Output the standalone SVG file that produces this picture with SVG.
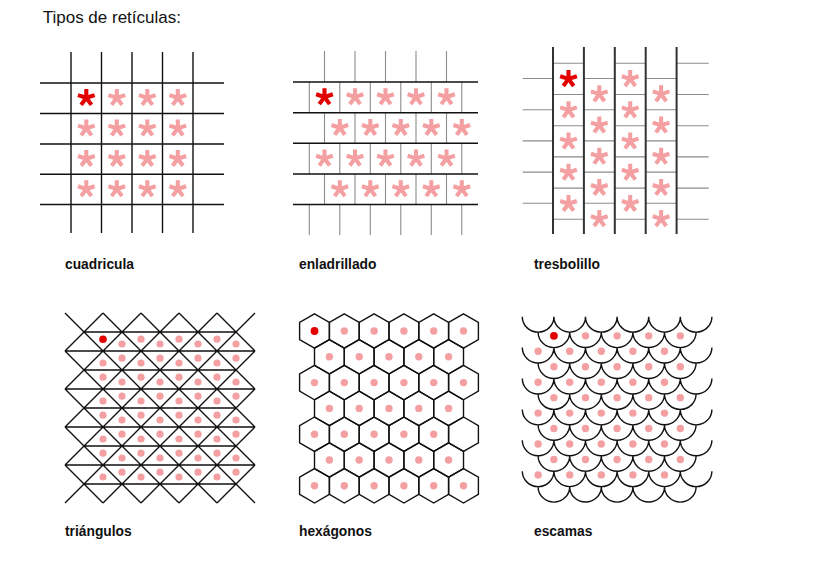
<svg xmlns="http://www.w3.org/2000/svg" width="820" height="569" viewBox="0 0 820 569">
<style>
.k{stroke:#111;stroke-width:1.4;fill:none}
.g{stroke:#8c8c8c;stroke-width:1.1;fill:none}
.th{stroke:#333;stroke-width:2;fill:none}
.ar{stroke:#e30000;fill:none}
.ap{stroke:#f4a0a2;fill:none}
.dr{fill:#e30000}
.dp{fill:#f4a0a2}
.title{font-family:"Liberation Sans",Arial,sans-serif;font-size:17px;fill:#111}
.lbl{font-family:"Liberation Sans",Arial,sans-serif;font-size:13.8px;font-weight:bold;fill:#111}
</style>
<defs>
<path id="ast" d="M0,0 L0,-8.8 M0,0 L8.37,-2.72 M0,0 L5.17,7.12 M0,0 L-5.17,7.12 M0,0 L-8.37,-2.72" stroke-width="4.1" stroke-linecap="butt"/>
<path id="hex" d="M0,-17.2 L14.9,-8.6 L14.9,8.6 L0,17.2 L-14.9,8.6 L-14.9,-8.6 Z"/>
</defs>
<rect width="820" height="569" fill="#fff"/>
<text class="title" x="42.7" y="23.3">Tipos de retículas:</text>

<g id="cuadricula">
<path class="k" d="M71,52V233M101.5,52V233M132,52V233M162.5,52V233M193,52V233M40,83H224M40,113.5H224M40,144H224M40,174.3H224M40,204.5H224"/>
<use href="#ast" class="ar" x="86.3" y="97.8"/>
<g class="ap">
<use href="#ast" x="116.8" y="97.8"/><use href="#ast" x="147.3" y="97.8"/><use href="#ast" x="177.8" y="97.8"/>
<use href="#ast" x="86.3" y="128.3"/><use href="#ast" x="116.8" y="128.3"/><use href="#ast" x="147.3" y="128.3"/><use href="#ast" x="177.8" y="128.3"/>
<use href="#ast" x="86.3" y="158.7"/><use href="#ast" x="116.8" y="158.7"/><use href="#ast" x="147.3" y="158.7"/><use href="#ast" x="177.8" y="158.7"/>
<use href="#ast" x="86.3" y="189"/><use href="#ast" x="116.8" y="189"/><use href="#ast" x="147.3" y="189"/><use href="#ast" x="177.8" y="189"/>
</g>
<text class="lbl" x="65" y="269.3">cuadricula</text>
</g>

<g id="enladrillado">
<path class="g" d="M324.5,51V82M355,51V82M385.5,51V82M416,51V82M446.5,51V82
M309.3,82V112.7M339.8,82V112.7M370.3,82V112.7M400.8,82V112.7M431.3,82V112.7M461.8,82V112.7
M324.5,112.7V143.3M355,112.7V143.3M385.5,112.7V143.3M416,112.7V143.3M446.5,112.7V143.3
M309.3,143.3V174M339.8,143.3V174M370.3,143.3V174M400.8,143.3V174M431.3,143.3V174M461.8,143.3V174
M324.5,174V204.5M355,174V204.5M385.5,174V204.5M416,174V204.5M446.5,174V204.5
M309.3,204.5V235M339.8,204.5V235M370.3,204.5V235M400.8,204.5V235M431.3,204.5V235M461.8,204.5V235"/>
<path class="k" d="M293,82H478M293,112.7H478M293,143.3H478M293,174H478M293,204.5H478"/>
<use href="#ast" class="ar" x="324.5" y="97"/>
<g class="ap">
<use href="#ast" x="355" y="97"/><use href="#ast" x="385.5" y="97"/><use href="#ast" x="416" y="97"/><use href="#ast" x="446.5" y="97"/>
<use href="#ast" x="339.8" y="127.7"/><use href="#ast" x="370.3" y="127.7"/><use href="#ast" x="400.8" y="127.7"/><use href="#ast" x="431.3" y="127.7"/><use href="#ast" x="461.8" y="127.7"/>
<use href="#ast" x="324.5" y="158.4"/><use href="#ast" x="355" y="158.4"/><use href="#ast" x="385.5" y="158.4"/><use href="#ast" x="416" y="158.4"/><use href="#ast" x="446.5" y="158.4"/>
<use href="#ast" x="339.8" y="189"/><use href="#ast" x="370.3" y="189"/><use href="#ast" x="400.8" y="189"/><use href="#ast" x="431.3" y="189"/><use href="#ast" x="461.8" y="189"/>
</g>
<text class="lbl" x="299" y="269.3">enladrillado</text>
</g>

<g id="tresbolillo">
<path class="g" d="M553,63.3H583.9M553,94.5H583.9M553,125.7H583.9M553,156.9H583.9M553,188.1H583.9M553,219.3H583.9
M614.8,63.3H645.7M614.8,94.5H645.7M614.8,125.7H645.7M614.8,156.9H645.7M614.8,188.1H645.7M614.8,219.3H645.7
M676.6,63.3H708.7M676.6,94.5H708.7M676.6,125.7H708.7M676.6,156.9H708.7M676.6,188.1H708.7M676.6,219.3H708.7
M583.9,78.5H614.8M583.9,109.7H614.8M583.9,140.9H614.8M583.9,172.1H614.8M583.9,203.3H614.8
M645.7,78.5H676.6M645.7,109.7H676.6M645.7,140.9H676.6M645.7,172.1H676.6M645.7,203.3H676.6
M522.7,78.5H553M522.7,109.7H553M522.7,140.9H553M522.7,172.1H553M522.7,203.3H553"/>
<path class="th" d="M553,47V234M583.9,47V234M614.8,47V234M645.7,47V234M676.6,47V234"/>
<use href="#ast" class="ar" x="568.5" y="78.9"/>
<g class="ap">
<use href="#ast" x="568.5" y="110.1"/><use href="#ast" x="568.5" y="141.3"/><use href="#ast" x="568.5" y="172.5"/><use href="#ast" x="568.5" y="203.7"/>
<use href="#ast" x="630.2" y="78.9"/><use href="#ast" x="630.2" y="110.1"/><use href="#ast" x="630.2" y="141.3"/><use href="#ast" x="630.2" y="172.5"/><use href="#ast" x="630.2" y="203.7"/>
<use href="#ast" x="599.3" y="94.1"/><use href="#ast" x="599.3" y="125.3"/><use href="#ast" x="599.3" y="156.5"/><use href="#ast" x="599.3" y="187.7"/><use href="#ast" x="599.3" y="218.9"/>
<use href="#ast" x="661.1" y="94.1"/><use href="#ast" x="661.1" y="125.3"/><use href="#ast" x="661.1" y="156.5"/><use href="#ast" x="661.1" y="187.7"/><use href="#ast" x="661.1" y="218.9"/>
</g>
<text class="lbl" x="534" y="269.3">tresbolillo</text>
</g>

<g id="triangulos">
<path class="k" d="M217,313L255,351M179,313L255,389M141,313L255,427M103,313L255,465M65,313L255,503M65,351L217,503M65,389L179,503M65,427L141,503M65,465L103,503
M65,351L103,313M65,389L141,313M65,427L179,313M65,465L217,313M65,503L255,313M103,503L255,351M141,503L255,389M179,503L255,427M217,503L255,465
M84,332H236M84,370H236M84,408H236M84,446H236M84,484H236M65,351H255M65,389H255M65,427H255M65,465H255"/>
<circle class="dr" cx="103" cy="339.2" r="3.8"/>
<g class="dp">
<circle cx="141" cy="339.2" r="3.6"/><circle cx="179" cy="339.2" r="3.6"/><circle cx="217" cy="339.2" r="3.6"/>
<circle cx="122" cy="344" r="3.6"/><circle cx="160" cy="344" r="3.6"/><circle cx="198" cy="344" r="3.6"/><circle cx="236" cy="344" r="3.6"/>
<circle cx="103" cy="363" r="3.6"/><circle cx="141" cy="363" r="3.6"/><circle cx="179" cy="363" r="3.6"/><circle cx="217" cy="363" r="3.6"/>
<circle cx="122" cy="358.2" r="3.6"/><circle cx="160" cy="358.2" r="3.6"/><circle cx="198" cy="358.2" r="3.6"/><circle cx="236" cy="358.2" r="3.6"/>
<circle cx="103" cy="377.2" r="3.6"/><circle cx="141" cy="377.2" r="3.6"/><circle cx="179" cy="377.2" r="3.6"/><circle cx="217" cy="377.2" r="3.6"/>
<circle cx="122" cy="382" r="3.6"/><circle cx="160" cy="382" r="3.6"/><circle cx="198" cy="382" r="3.6"/><circle cx="236" cy="382" r="3.6"/>
<circle cx="103" cy="401" r="3.6"/><circle cx="141" cy="401" r="3.6"/><circle cx="179" cy="401" r="3.6"/><circle cx="217" cy="401" r="3.6"/>
<circle cx="122" cy="396.2" r="3.6"/><circle cx="160" cy="396.2" r="3.6"/><circle cx="198" cy="396.2" r="3.6"/><circle cx="236" cy="396.2" r="3.6"/>
<circle cx="103" cy="415.2" r="3.6"/><circle cx="141" cy="415.2" r="3.6"/><circle cx="179" cy="415.2" r="3.6"/><circle cx="217" cy="415.2" r="3.6"/>
<circle cx="122" cy="420" r="3.6"/><circle cx="160" cy="420" r="3.6"/><circle cx="198" cy="420" r="3.6"/><circle cx="236" cy="420" r="3.6"/>
<circle cx="103" cy="439" r="3.6"/><circle cx="141" cy="439" r="3.6"/><circle cx="179" cy="439" r="3.6"/><circle cx="217" cy="439" r="3.6"/>
<circle cx="122" cy="434.2" r="3.6"/><circle cx="160" cy="434.2" r="3.6"/><circle cx="198" cy="434.2" r="3.6"/><circle cx="236" cy="434.2" r="3.6"/>
<circle cx="103" cy="453.2" r="3.6"/><circle cx="141" cy="453.2" r="3.6"/><circle cx="179" cy="453.2" r="3.6"/><circle cx="217" cy="453.2" r="3.6"/>
<circle cx="122" cy="458" r="3.6"/><circle cx="160" cy="458" r="3.6"/><circle cx="198" cy="458" r="3.6"/><circle cx="236" cy="458" r="3.6"/>
<circle cx="103" cy="477" r="3.6"/><circle cx="141" cy="477" r="3.6"/><circle cx="179" cy="477" r="3.6"/><circle cx="217" cy="477" r="3.6"/>
<circle cx="122" cy="472.2" r="3.6"/><circle cx="160" cy="472.2" r="3.6"/><circle cx="198" cy="472.2" r="3.6"/><circle cx="236" cy="472.2" r="3.6"/>
</g>
<text class="lbl" x="65" y="536.3">triángulos</text>
</g>

<g id="hexagonos">
<g class="k">
<use href="#hex" x="314.5" y="331"/><use href="#hex" x="344.3" y="331"/><use href="#hex" x="374.1" y="331"/><use href="#hex" x="403.9" y="331"/><use href="#hex" x="433.7" y="331"/><use href="#hex" x="463.5" y="331"/>
<use href="#hex" x="329.4" y="356.8"/><use href="#hex" x="359.2" y="356.8"/><use href="#hex" x="389" y="356.8"/><use href="#hex" x="418.8" y="356.8"/><use href="#hex" x="448.6" y="356.8"/>
<use href="#hex" x="314.5" y="382.6"/><use href="#hex" x="344.3" y="382.6"/><use href="#hex" x="374.1" y="382.6"/><use href="#hex" x="403.9" y="382.6"/><use href="#hex" x="433.7" y="382.6"/><use href="#hex" x="463.5" y="382.6"/>
<use href="#hex" x="329.4" y="408.4"/><use href="#hex" x="359.2" y="408.4"/><use href="#hex" x="389" y="408.4"/><use href="#hex" x="418.8" y="408.4"/><use href="#hex" x="448.6" y="408.4"/>
<use href="#hex" x="314.5" y="434.2"/><use href="#hex" x="344.3" y="434.2"/><use href="#hex" x="374.1" y="434.2"/><use href="#hex" x="403.9" y="434.2"/><use href="#hex" x="433.7" y="434.2"/><use href="#hex" x="463.5" y="434.2"/>
<use href="#hex" x="329.4" y="460"/><use href="#hex" x="359.2" y="460"/><use href="#hex" x="389" y="460"/><use href="#hex" x="418.8" y="460"/><use href="#hex" x="448.6" y="460"/>
<use href="#hex" x="314.5" y="485.8"/><use href="#hex" x="344.3" y="485.8"/><use href="#hex" x="374.1" y="485.8"/><use href="#hex" x="403.9" y="485.8"/><use href="#hex" x="433.7" y="485.8"/><use href="#hex" x="463.5" y="485.8"/>
</g>
<circle class="dr" cx="314.5" cy="331" r="3.9"/>
<g class="dp">
<circle cx="344.3" cy="331" r="3.7"/><circle cx="374.1" cy="331" r="3.7"/><circle cx="403.9" cy="331" r="3.7"/><circle cx="433.7" cy="331" r="3.7"/><circle cx="463.5" cy="331" r="3.7"/>
<circle cx="329.4" cy="356.8" r="3.7"/><circle cx="359.2" cy="356.8" r="3.7"/><circle cx="389" cy="356.8" r="3.7"/><circle cx="418.8" cy="356.8" r="3.7"/><circle cx="448.6" cy="356.8" r="3.7"/>
<circle cx="314.5" cy="382.6" r="3.7"/><circle cx="344.3" cy="382.6" r="3.7"/><circle cx="374.1" cy="382.6" r="3.7"/><circle cx="403.9" cy="382.6" r="3.7"/><circle cx="433.7" cy="382.6" r="3.7"/><circle cx="463.5" cy="382.6" r="3.7"/>
<circle cx="329.4" cy="408.4" r="3.7"/><circle cx="359.2" cy="408.4" r="3.7"/><circle cx="389" cy="408.4" r="3.7"/><circle cx="418.8" cy="408.4" r="3.7"/><circle cx="448.6" cy="408.4" r="3.7"/>
<circle cx="314.5" cy="434.2" r="3.7"/><circle cx="344.3" cy="434.2" r="3.7"/><circle cx="374.1" cy="434.2" r="3.7"/><circle cx="403.9" cy="434.2" r="3.7"/><circle cx="433.7" cy="434.2" r="3.7"/>
<circle cx="329.4" cy="460" r="3.7"/><circle cx="359.2" cy="460" r="3.7"/><circle cx="389" cy="460" r="3.7"/><circle cx="418.8" cy="460" r="3.7"/><circle cx="448.6" cy="460" r="3.7"/>
<circle cx="314.5" cy="485.8" r="3.7"/><circle cx="344.3" cy="485.8" r="3.7"/><circle cx="374.1" cy="485.8" r="3.7"/><circle cx="403.9" cy="485.8" r="3.7"/><circle cx="433.7" cy="485.8" r="3.7"/><circle cx="463.5" cy="485.8" r="3.7"/>
</g>
<text class="lbl" x="299" y="536.3">hexágonos</text>
</g>

<g id="escamas">
<path class="k" d="M522.3,316.7a15.8,15.45 0 0 0 31.6,0a15.8,15.45 0 0 0 31.6,0a15.8,15.45 0 0 0 31.6,0a15.8,15.45 0 0 0 31.6,0a15.8,15.45 0 0 0 31.6,0a15.8,15.45 0 0 0 31.6,0
M538.1,332.15a15.8,15.45 0 0 0 31.6,0a15.8,15.45 0 0 0 31.6,0a15.8,15.45 0 0 0 31.6,0a15.8,15.45 0 0 0 31.6,0a15.8,15.45 0 0 0 31.6,0
M522.3,347.6a15.8,15.45 0 0 0 31.6,0a15.8,15.45 0 0 0 31.6,0a15.8,15.45 0 0 0 31.6,0a15.8,15.45 0 0 0 31.6,0a15.8,15.45 0 0 0 31.6,0a15.8,15.45 0 0 0 31.6,0
M538.1,363.05a15.8,15.45 0 0 0 31.6,0a15.8,15.45 0 0 0 31.6,0a15.8,15.45 0 0 0 31.6,0a15.8,15.45 0 0 0 31.6,0a15.8,15.45 0 0 0 31.6,0
M522.3,378.5a15.8,15.45 0 0 0 31.6,0a15.8,15.45 0 0 0 31.6,0a15.8,15.45 0 0 0 31.6,0a15.8,15.45 0 0 0 31.6,0a15.8,15.45 0 0 0 31.6,0a15.8,15.45 0 0 0 31.6,0
M538.1,393.95a15.8,15.45 0 0 0 31.6,0a15.8,15.45 0 0 0 31.6,0a15.8,15.45 0 0 0 31.6,0a15.8,15.45 0 0 0 31.6,0a15.8,15.45 0 0 0 31.6,0
M522.3,409.4a15.8,15.45 0 0 0 31.6,0a15.8,15.45 0 0 0 31.6,0a15.8,15.45 0 0 0 31.6,0a15.8,15.45 0 0 0 31.6,0a15.8,15.45 0 0 0 31.6,0a15.8,15.45 0 0 0 31.6,0
M538.1,424.85a15.8,15.45 0 0 0 31.6,0a15.8,15.45 0 0 0 31.6,0a15.8,15.45 0 0 0 31.6,0a15.8,15.45 0 0 0 31.6,0a15.8,15.45 0 0 0 31.6,0
M522.3,440.3a15.8,15.45 0 0 0 31.6,0a15.8,15.45 0 0 0 31.6,0a15.8,15.45 0 0 0 31.6,0a15.8,15.45 0 0 0 31.6,0a15.8,15.45 0 0 0 31.6,0a15.8,15.45 0 0 0 31.6,0
M538.1,455.75a15.8,15.45 0 0 0 31.6,0a15.8,15.45 0 0 0 31.6,0a15.8,15.45 0 0 0 31.6,0a15.8,15.45 0 0 0 31.6,0a15.8,15.45 0 0 0 31.6,0
M522.3,471.2a15.8,15.45 0 0 0 31.6,0a15.8,15.45 0 0 0 31.6,0a15.8,15.45 0 0 0 31.6,0a15.8,15.45 0 0 0 31.6,0a15.8,15.45 0 0 0 31.6,0a15.8,15.45 0 0 0 31.6,0
M538.1,486.65a15.8,15.45 0 0 0 31.6,0a15.8,15.45 0 0 0 31.6,0a15.8,15.45 0 0 0 31.6,0a15.8,15.45 0 0 0 31.6,0a15.8,15.45 0 0 0 31.6,0"/>
<circle class="dr" cx="553.9" cy="335.85" r="3.9"/>
<g class="dp">
<circle cx="585.5" cy="335.85" r="3.7"/><circle cx="617.1" cy="335.85" r="3.7"/><circle cx="648.7" cy="335.85" r="3.7"/><circle cx="680.3" cy="335.85" r="3.7"/>
<circle cx="538.1" cy="351.3" r="3.7"/><circle cx="569.7" cy="351.3" r="3.7"/><circle cx="601.3" cy="351.3" r="3.7"/><circle cx="632.9" cy="351.3" r="3.7"/><circle cx="664.5" cy="351.3" r="3.7"/>
<circle cx="553.9" cy="366.75" r="3.7"/><circle cx="585.5" cy="366.75" r="3.7"/><circle cx="617.1" cy="366.75" r="3.7"/><circle cx="648.7" cy="366.75" r="3.7"/><circle cx="680.3" cy="366.75" r="3.7"/>
<circle cx="538.1" cy="382.2" r="3.7"/><circle cx="569.7" cy="382.2" r="3.7"/><circle cx="601.3" cy="382.2" r="3.7"/><circle cx="632.9" cy="382.2" r="3.7"/><circle cx="664.5" cy="382.2" r="3.7"/>
<circle cx="553.9" cy="397.65" r="3.7"/><circle cx="585.5" cy="397.65" r="3.7"/><circle cx="617.1" cy="397.65" r="3.7"/><circle cx="648.7" cy="397.65" r="3.7"/><circle cx="680.3" cy="397.65" r="3.7"/>
<circle cx="538.1" cy="413.1" r="3.7"/><circle cx="569.7" cy="413.1" r="3.7"/><circle cx="601.3" cy="413.1" r="3.7"/><circle cx="632.9" cy="413.1" r="3.7"/><circle cx="664.5" cy="413.1" r="3.7"/>
<circle cx="553.9" cy="428.55" r="3.7"/><circle cx="585.5" cy="428.55" r="3.7"/><circle cx="617.1" cy="428.55" r="3.7"/><circle cx="648.7" cy="428.55" r="3.7"/><circle cx="680.3" cy="428.55" r="3.7"/>
<circle cx="538.1" cy="444" r="3.7"/><circle cx="569.7" cy="444" r="3.7"/><circle cx="601.3" cy="444" r="3.7"/><circle cx="632.9" cy="444" r="3.7"/><circle cx="664.5" cy="444" r="3.7"/>
<circle cx="553.9" cy="459.45" r="3.7"/><circle cx="585.5" cy="459.45" r="3.7"/><circle cx="617.1" cy="459.45" r="3.7"/><circle cx="648.7" cy="459.45" r="3.7"/><circle cx="680.3" cy="459.45" r="3.7"/>
<circle cx="538.1" cy="474.9" r="3.7"/><circle cx="569.7" cy="474.9" r="3.7"/><circle cx="601.3" cy="474.9" r="3.7"/><circle cx="632.9" cy="474.9" r="3.7"/><circle cx="664.5" cy="474.9" r="3.7"/>
</g>
<text class="lbl" x="534" y="536.3">escamas</text>
</g>
</svg>
